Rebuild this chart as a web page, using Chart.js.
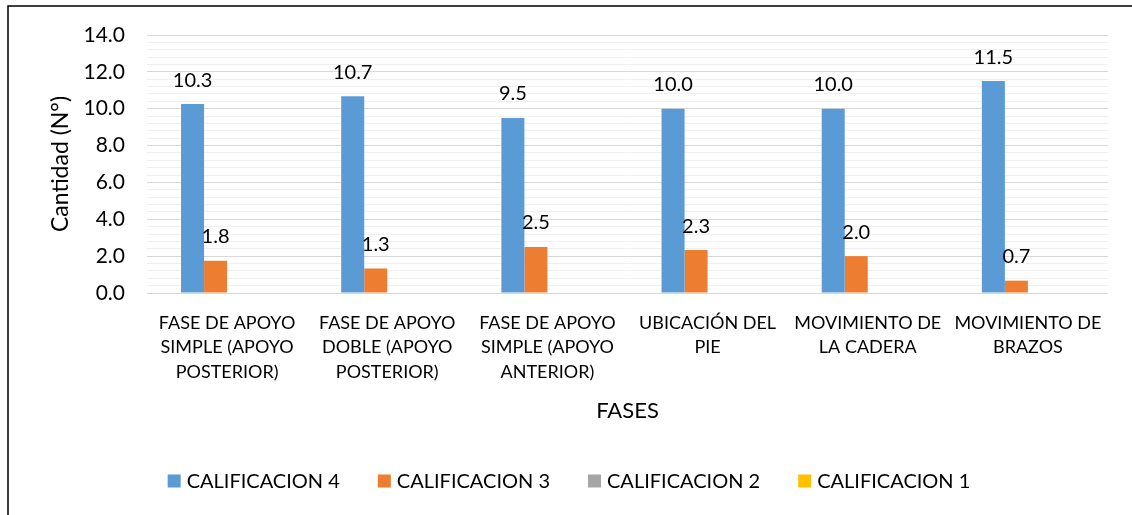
<!DOCTYPE html>
<html><head><meta charset="utf-8">
<script src="https://cdn.jsdelivr.net/npm/chart.js@4.4.1/dist/chart.umd.min.js"></script>
<style>html,body{margin:0;padding:0;background:#fff;} #wrap{width:1132px;height:515px;position:relative;}</style>
</head><body><div id="wrap"><canvas id="c" width="1132" height="515"></canvas></div>
<script>
const categories = [
  ['FASE DE APOYO','SIMPLE (APOYO','POSTERIOR)'],
  ['FASE DE APOYO','DOBLE (APOYO','POSTERIOR)'],
  ['FASE DE APOYO','SIMPLE (APOYO','ANTERIOR)'],
  ['UBICACIÓN DEL','PIE'],
  ['MOVIMIENTO DE','LA CADERA'],
  ['MOVIMIENTO DE','BRAZOS']
];
const seriesNames = ['CALIFICACION 4','CALIFICACION 3','CALIFICACION 2','CALIFICACION 1'];
const calificacion4 = [10.25, 10.67, 9.5, 10.0, 10.0, 11.5];
const calificacion3 = [1.75, 1.33, 2.5, 2.33, 2.0, 0.67];
const calificacion2 = [0, 0, 0, 0, 0, 0];
const calificacion1 = [0, 0, 0, 0, 0, 0];
const yTickLabels = ['0.0','2.0','4.0','6.0','8.0','10.0','12.0','14.0'];
const yMajorStep = 2;
const yMinorStep = 0.4;
const yMax = 14;
const colors = ['#5b9bd5','#ed7d31','#a5a5a5','#ffc000'];

const FONT = 'Lato';
function isMajor(v){ const i = Math.round(v / yMajorStep); return Math.abs(v - i * yMajorStep) < 1e-6; }

const bgBorder = {
  id: 'bgBorder',
  beforeDraw(chart){
    const c = chart.ctx;
    c.save();
    c.fillStyle = '#fff';
    c.fillRect(0, 0, chart.width, chart.height);
    c.strokeStyle = '#000';
    c.lineWidth = 1.5;
    c.strokeRect(8, 6, 2000, 2000);
    c.restore();
  }
};

const valueLabels = {
  id: 'valueLabels',
  afterDatasetsDraw(chart){
    const c = chart.ctx;
    c.save();
    c.font = '20px ' + FONT;
    c.fillStyle = '#000';
    c.textAlign = 'center';
    c.textBaseline = 'middle';
    chart.data.datasets.forEach((ds, di) => {
      const meta = chart.getDatasetMeta(di);
      meta.data.forEach((bar, i) => {
        const v = ds.data[i];
        if (!v) return;
        c.fillText(v.toFixed(1), bar.x, bar.y - 24);
      });
    });
    c.restore();
  }
};

const bottomLegend = {
  id: 'bottomLegend',
  afterDraw(chart){
    const c = chart.ctx;
    c.save();
    c.font = '20px ' + FONT;
    c.textBaseline = 'middle';
    c.textAlign = 'left';
    const box = 13, gapBox = 6, gapItem = 38, cy = 481, cx = 569;
    const items = chart.data.datasets.map(ds => ({label: ds.label, color: ds.backgroundColor, w: c.measureText(ds.label).width}));
    let total = items.reduce((s, it) => s + box + gapBox + it.w, 0) + gapItem * (items.length - 1);
    let x = cx - total / 2;
    items.forEach(it => {
      c.fillStyle = it.color;
      c.fillRect(x, cy - box / 2, box, box);
      c.fillStyle = '#000';
      c.fillText(it.label, x + box + gapBox, cy + 1);
      x += box + gapBox + it.w + gapItem;
    });
    c.restore();
  }
};

const seriesData = [calificacion4, calificacion3, calificacion2, calificacion1];

new Chart(document.getElementById('c'), {
  type: 'bar',
  data: {
    labels: categories,
    datasets: seriesData.map((d, i) => ({
      label: seriesNames[i],
      data: d,
      backgroundColor: colors[i],
      borderWidth: 0,
      categoryPercentage: 0.575,
      barPercentage: 1.0
    }))
  },
  options: {
    responsive: false,
    animation: false,
    devicePixelRatio: 1,
    layout: { padding: { left: 47, top: 35, right: 24, bottom: 91 } },
    plugins: { legend: { display: false }, tooltip: { enabled: false } },
    scales: {
      x: {
        grid: { display: false, drawTicks: false },
        border: { display: false },
        ticks: { font: { family: FONT, size: 18, lineHeight: 1.35 }, color: '#000', padding: 18, maxRotation: 0, autoSkip: false },
        title: { display: true, text: 'FASES', font: { family: FONT, size: 22 }, color: '#000', padding: { top: 0, bottom: 0 } },
        afterFit(s){ s.height = 131; }
      },
      y: {
        min: 0, max: yMax,
        ticks: {
          stepSize: yMinorStep, autoSkip: false,
          callback: v => isMajor(v) ? yTickLabels[Math.round(v / yMajorStep)] : '',
          font: { family: FONT, size: 21 }, color: '#000', padding: 22
        },
        grid: { color: ctx => (ctx.tick && isMajor(ctx.tick.value)) ? '#d9d9d9' : '#f0f0f0', drawTicks: false, lineWidth: 1 },
        border: { display: false },
        title: { display: true, text: 'Cantidad (N°)', font: { family: FONT, size: 23 }, color: '#000', padding: { top: 0, bottom: 0 } },
        afterFit(s){ s.width = 100; }
      }
    }
  },
  plugins: [bgBorder, valueLabels, bottomLegend]
});
</script></body></html>
